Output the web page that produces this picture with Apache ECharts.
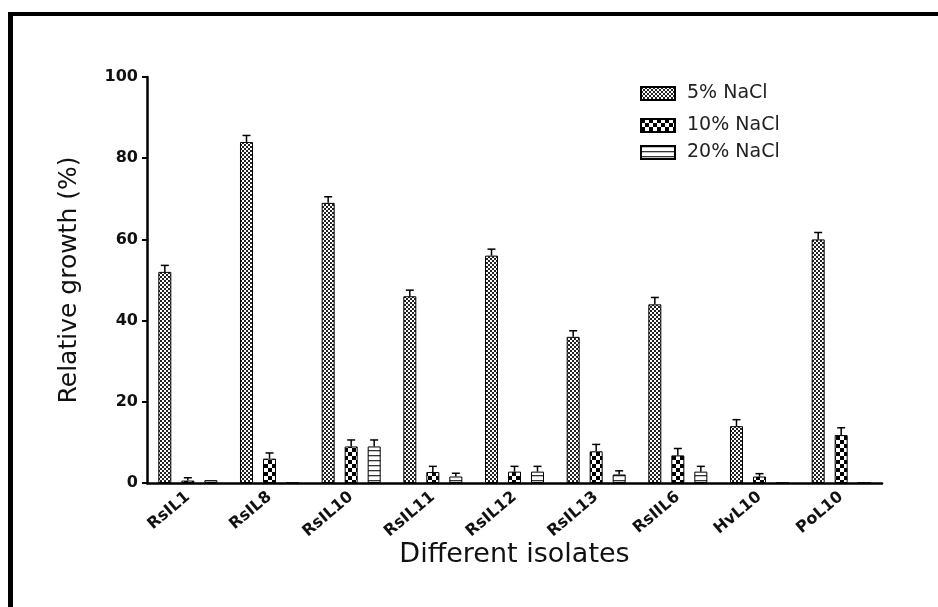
<!DOCTYPE html>
<html>
<head>
<meta charset="utf-8">
<script src="https://cdn.jsdelivr.net/npm/echarts@6/dist/echarts.min.js"></script>
<style>html,body{margin:0;padding:0;background:#fff;}#c{width:938px;height:607px;}</style>
</head>
<body>
<div id="c"></div>
<script>
var categories = ['RsIL1','RsIL8','RsIL10','RsIL11','RsIL12','RsIL13','RsIIL6','HvL10','PoL10'];
var seriesNames = ['5% NaCl','10% NaCl','20% NaCl'];
var nacl5 = [52, 84, 69, 46, 56, 36, 44, 14, 60];
var nacl5Err = [1.6, 1.6, 1.5, 1.5, 1.6, 1.5, 1.7, 1.6, 1.7];
var nacl10 = [0.6, 6, 9, 2.7, 2.8, 7.8, 6.8, 1.6, 11.8];
var nacl10Err = [0.7, 1.4, 1.6, 1.4, 1.3, 1.7, 1.7, 0.7, 1.8];
var nacl20 = [0.7, 0, 9, 1.6, 2.8, 2.1, 2.8, 0, 0];
var nacl20Err = [0, 0, 1.6, 0.8, 1.3, 0.9, 1.3, 0, 0];
var yTicks = [0, 20, 40, 60, 80, 100];

function makePattern(type) {
  var cv = document.createElement('canvas');
  var ctx;
  if (type === 'fine') {
    cv.width = 4; cv.height = 4; ctx = cv.getContext('2d');
    ctx.fillStyle = '#fff'; ctx.fillRect(0,0,4,4);
    ctx.fillStyle = '#222'; ctx.fillRect(0,0,2,2); ctx.fillRect(2,2,2,2);
  } else if (type === 'coarse') {
    cv.width = 8; cv.height = 8; ctx = cv.getContext('2d');
    ctx.fillStyle = '#fff'; ctx.fillRect(0,0,8,8);
    ctx.fillStyle = '#000'; ctx.fillRect(0,0,4,4); ctx.fillRect(4,4,4,4);
  } else {
    cv.width = 4; cv.height = 5; ctx = cv.getContext('2d');
    ctx.fillStyle = '#fff'; ctx.fillRect(0,0,4,5);
    ctx.fillStyle = '#333'; ctx.fillRect(0,0,4,1.3);
  }
  return {image: cv, repeat: 'repeat'};
}
var patterns = [makePattern('fine'), makePattern('coarse'), makePattern('stripe')];
var values = [nacl5, nacl10, nacl20];
var errs = [nacl5Err, nacl10Err, nacl20Err];
var offsets = [-23, 0, 23];

var series = [];
for (var s = 0; s < 3; s++) {
  series.push({
    name: seriesNames[s], type: 'bar', data: values[s],
    barWidth: 13, barGap: '77%',
    itemStyle: {color: patterns[s], borderColor: '#000', borderWidth: 1},
    emphasis: {disabled: true}, z: 2
  });
}
for (var s2 = 0; s2 < 3; s2++) {
  (function(si){
    var d = [];
    for (var i = 0; i < categories.length; i++) {
      d.push([i, values[si][i], errs[si][i]]);
    }
    series.push({
      type: 'custom', data: d, z: 3, silent: true,
      renderItem: function(params, api) {
        var idx = api.value(0), v = api.value(1), e = api.value(2);
        if (!e) return null;
        var p0 = api.coord([idx, v]);
        var p1 = api.coord([idx, v + e]);
        var x = p0[0] + offsets[si];
        return {type: 'group', children: [
          {type: 'line', shape: {x1: x, y1: p0[1], x2: x, y2: p1[1]}, style: {stroke: '#000', lineWidth: 1.5}},
          {type: 'line', shape: {x1: x - 4, y1: p1[1], x2: x + 4, y2: p1[1]}, style: {stroke: '#000', lineWidth: 1.5}}
        ]};
      }
    });
  })(s2);
}

var legendTops = [79, 111, 138];
var legends = [];
for (var k = 0; k < 3; k++) {
  legends.push({
    data: [seriesNames[k]], left: 635, top: legendTops[k], orient: 'vertical',
    itemWidth: 34, itemHeight: 13, icon: 'rect', selectedMode: false,
    textStyle: {fontFamily: 'DejaVu Sans', fontSize: 19, color: '#222', padding: [0,0,0,7]}
  });
}

var chart = echarts.init(document.getElementById('c'), null, {renderer: 'canvas'});
chart.setOption({
  animation: false,
  backgroundColor: '#fff',
  legend: legends,
  grid: {left: 147, right: 56, top: 77, bottom: 124, containLabel: false},
  xAxis: {
    type: 'category', data: categories,
    name: 'Different isolates', nameLocation: 'middle', nameGap: 58, nameMoveOverlap: false,
    nameTextStyle: {fontFamily: 'DejaVu Sans', fontSize: 27, color: '#111'},
    axisLine: {lineStyle: {color: '#000', width: 2.5}},
    axisTick: {alignWithLabel: true, interval: 0, length: 7, lineStyle: {color: '#000', width: 3}},
    axisLabel: {interval: 0, rotate: 40, margin: 12, fontFamily: 'DejaVu Sans', fontWeight: 'bold', fontSize: 16, color: '#111'},
    splitLine: {show: false}
  },
  yAxis: {
    type: 'value', min: 0, max: 100, interval: 20,
    name: 'Relative growth (%)', nameLocation: 'middle', nameGap: 65, nameMoveOverlap: false,
    nameTextStyle: {fontFamily: 'DejaVu Sans', fontSize: 25, color: '#111'},
    axisLine: {show: true, lineStyle: {color: '#000', width: 2.5}},
    axisTick: {show: true, length: 5, lineStyle: {color: '#000', width: 2}},
    axisLabel: {margin: 9, fontFamily: 'DejaVu Sans', fontWeight: 'bold', fontSize: 16, color: '#111',
      formatter: function(v){ return yTicks.indexOf(v) >= 0 ? String(v) : ''; }},
    splitLine: {show: false}
  },
  graphic: [
    {type: 'rect', shape: {x: 8, y: 12, width: 5, height: 600}, style: {fill: '#000'}, silent: true},
    {type: 'rect', shape: {x: 8, y: 12, width: 935, height: 4}, style: {fill: '#000'}, silent: true}
  ],
  series: series
});
</script>
</body>
</html>
